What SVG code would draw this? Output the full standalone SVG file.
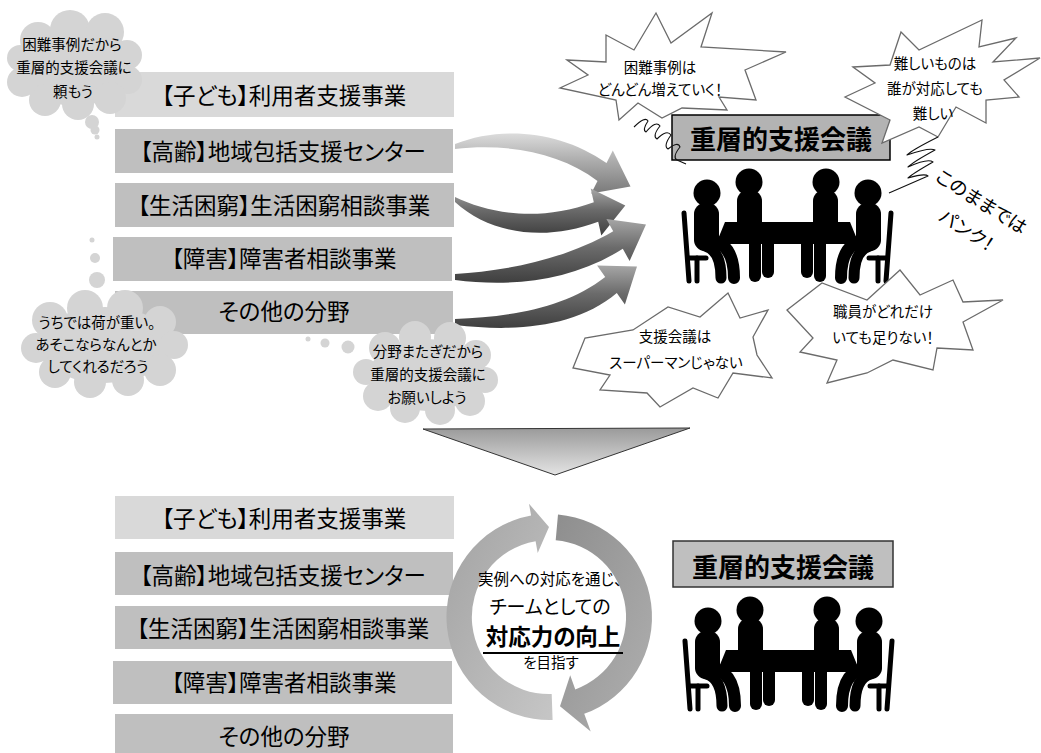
<svg xmlns="http://www.w3.org/2000/svg" width="1041" height="753" viewBox="0 0 1041 753">
  <defs>
    <style>
      text { font-family: "Noto Sans CJK JP", "Noto Sans", sans-serif; fill: #000; font-feature-settings: "palt"; }
      .lbl { font-size: 22.5px; text-anchor: middle; }
      .small { font-size: 14.5px; text-anchor: middle; }
      .box-a { fill: #d9d9d9; }
      .box-b { fill: #bfbfbf; }
      .cloud { fill: #d4d4d4; }
      .burst { fill: #fff; stroke: #6b6b6b; stroke-width: 1.3; stroke-linejoin: miter; }
      .squiggle { fill: none; stroke: #111; stroke-width: 1.1; stroke-linejoin: round; }
      .title { font-size: 26px; font-weight: 700; text-anchor: middle; }
      .limb { fill: none; stroke: #000; stroke-linecap: round; }
    </style>
    <linearGradient id="g-arrow-light" x1="0" y1="0" x2="0" y2="1">
      <stop offset="0" stop-color="#dcdcdc"/>
      <stop offset="0.5" stop-color="#a8a8a8"/>
      <stop offset="1" stop-color="#7a7a7a"/>
    </linearGradient>
    <linearGradient id="g-arrow-dark" x1="0" y1="0" x2="0" y2="1">
      <stop offset="0" stop-color="#a6a6a6"/>
      <stop offset="0.45" stop-color="#6b6b6b"/>
      <stop offset="1" stop-color="#3f3f3f"/>
    </linearGradient>
    <linearGradient id="g-down" x1="0" y1="0" x2="0" y2="1">
      <stop offset="0" stop-color="#9a9a9a"/>
      <stop offset="1" stop-color="#e4e4e4"/>
    </linearGradient>
    <linearGradient id="g-ring-left" x1="0" y1="0" x2="1" y2="1">
      <stop offset="0" stop-color="#a2a2a2"/>
      <stop offset="1" stop-color="#c6c6c6"/>
    </linearGradient>
    <linearGradient id="g-ring-right" x1="0" y1="0" x2="1" y2="1">
      <stop offset="0" stop-color="#8e8e8e"/>
      <stop offset="1" stop-color="#b0b0b0"/>
    </linearGradient>

    <!-- one side of the meeting pictogram; mirrored for the other side -->
    <g id="icon-half">
      <circle cx="707" cy="193" r="13.5"/>
      <rect x="694" y="203" width="25" height="48" rx="11"/>
      <path class="limb" d="M708,240 Q734,242 734,278" stroke-width="12"/>
      <path class="limb" d="M705,246 Q721,250 721,278" stroke-width="11"/>
      <path class="limb" d="M684,213 L689,281" stroke-width="5"/>
      <path class="limb" d="M697,258 L697,281" stroke-width="5"/>
      <path class="limb" d="M689,258 L706,258" stroke-width="5"/>
      <circle cx="749" cy="182" r="13.5"/>
      <rect x="737" y="190" width="25" height="45" rx="11"/>
      <rect x="749" y="236" width="12" height="46" rx="6"/>
      <rect x="762" y="236" width="12" height="42" rx="6"/>
    </g>
    <g id="meeting-icon" fill="#000">
      <use href="#icon-half"/>
      <use href="#icon-half" transform="matrix(-1 0 0 1 1575 0)"/>
      <polygon points="725,222 850,222 859,244 716,244"/>
    </g>
  </defs>

  <rect width="1041" height="753" fill="#fff"/>

  <!-- upper list of service areas -->
  <g id="top-kodomo"><rect class="box-a" x="115" y="72" width="339" height="45"/><text class="lbl" x="284" y="104">【子ども】利用者支援事業</text></g>
  <g id="top-korei"><rect class="box-b" x="115" y="129" width="338" height="44"/><text class="lbl" x="283" y="160">【高齢】地域包括支援センター</text></g>
  <g id="top-seikatsu"><rect class="box-b" x="115" y="183" width="339" height="44"/><text class="lbl" x="284" y="214">【生活困窮】生活困窮相談事業</text></g>
  <g id="top-shogai"><rect class="box-b" x="113" y="237" width="339" height="44"/><text class="lbl" x="284" y="267">【障害】障害者相談事業</text></g>
  <g id="top-sonota"><rect class="box-b" x="115" y="291" width="338" height="43"/><text class="lbl" x="284" y="320">その他の分野</text></g>

  <!-- curved arrows into the meeting -->
  <g id="connectors">
    <path fill="url(#g-arrow-light)" d="M455,144 C500,126 560,130 606.5,163.1 L612.8,150.6 L630.5,186.4 L591.2,193.4 L597.5,180.9 C560,152 505,143 455,149 Z"/>
    <path fill="url(#g-arrow-dark)" d="M455,197 C490,214 540,222 593.8,202.3 L590.7,188.6 L625.3,205.4 L601.3,235.4 L598.2,221.8 C545,242 490,234 455,202 Z"/>
    <path fill="url(#g-arrow-dark)" d="M455,274 C500,271 560,262 613.2,231.2 L606.4,219 L646,224.6 L629.6,261 L622.8,248.8 C570,282 510,287 455,280 Z"/>
    <path fill="url(#g-arrow-dark)" d="M455,319 C510,317 565,308 605.2,276.9 L597.1,265.5 L637,266.4 L624.9,304.5 L616.8,293.1 C575,328 515,332 455,325 Z"/>
  </g>

  <!-- thought clouds -->
  <g id="cloud-tanomou" class="cloud">
    <ellipse cx="75" cy="68" rx="55" ry="38"/>
    <circle cx="38" cy="40" r="18"/><circle cx="70" cy="30" r="20"/><circle cx="105" cy="32" r="19"/>
    <circle cx="127" cy="55" r="15"/><circle cx="128" cy="80" r="14"/><circle cx="110" cy="98" r="16"/>
    <circle cx="78" cy="104" r="16"/><circle cx="45" cy="100" r="16"/><circle cx="22" cy="82" r="15"/>
    <circle cx="20" cy="58" r="13"/>
    <circle cx="92" cy="122" r="7"/><circle cx="95" cy="130" r="4.5"/><circle cx="97" cy="137" r="2.5"/>
    <text class="small" x="72" y="50">困難事例だから</text>
    <text class="small" x="74" y="73">重層的支援会議に</text>
    <text class="small" x="73" y="97">頼もう</text>
  </g>
  <g id="cloud-omoi" class="cloud">
    <circle cx="92" cy="240" r="2.5"/><circle cx="95" cy="258" r="5"/><circle cx="97" cy="280" r="8"/>
    <ellipse cx="105" cy="345" rx="68" ry="38"/>
    <circle cx="50" cy="320" r="18"/><circle cx="85" cy="308" r="18"/><circle cx="125" cy="308" r="18"/>
    <circle cx="160" cy="322" r="16"/><circle cx="174" cy="345" r="14"/><circle cx="160" cy="370" r="16"/>
    <circle cx="128" cy="380" r="16"/><circle cx="90" cy="382" r="16"/><circle cx="55" cy="372" r="16"/>
    <circle cx="36" cy="348" r="15"/>
    <text class="small" x="97" y="328">うちでは荷が重い。</text>
    <text class="small" x="96" y="350">あそこならなんとか</text>
    <text class="small" x="98" y="372">してくれるだろう</text>
  </g>
  <g id="cloud-onegai" class="cloud">
    <circle cx="308" cy="339" r="2.5"/><circle cx="325" cy="343" r="4.5"/><circle cx="348" cy="347" r="6.5"/>
    <ellipse cx="427" cy="375" rx="58" ry="36"/>
    <circle cx="385" cy="348" r="16"/><circle cx="415" cy="337" r="16"/><circle cx="450" cy="338" r="16"/>
    <circle cx="476" cy="355" r="15"/><circle cx="485" cy="380" r="13"/><circle cx="470" cy="401" r="15"/>
    <circle cx="440" cy="410" r="15"/><circle cx="405" cy="408" r="15"/><circle cx="378" cy="396" r="15"/>
    <circle cx="366" cy="372" r="13"/>
    <text class="small" x="428" y="357">分野またぎだから</text>
    <text class="small" x="428" y="380">重層的支援会議に</text>
    <text class="small" x="427" y="403">お願いしよう</text>
  </g>

  <!-- the council, overloaded -->
  <g id="council-top">
    <rect x="672" y="115" width="218" height="45" fill="#b3b3b3" stroke="#000" stroke-width="1.5"/>
    <text class="title" x="781" y="149">重層的支援会議</text>
    <use href="#meeting-icon"/>
  </g>

  <g id="burst-zoka">
    <polygon class="burst" points="567,60 606,62 606,35 634,50 656,13 671,43 712,13 701,47 786,52 745,70 756,100 719,97 727,110 682,108 662,118 638,103 619,120 616,100 560,88 588,75"/>
    <text class="small" x="660" y="73">困難事例は</text>
    <text class="small" x="660" y="95">どんどん増えていく！</text>
  </g>
  <g id="burst-muzukashii">
    <polygon class="burst" points="853,67 890,65 901,32 919,50 982,20 979,47 1016,38 993,62 1040,58 1004,80 1019,97 986,100 986,123 956,107 938,137 919,127 882,143 890,120 845,97 875,83"/>
    <text class="small" x="935" y="69">難しいものは</text>
    <text class="small" x="935" y="94">誰が対応しても</text>
    <text class="small" x="933" y="119">難しい</text>
  </g>
  <g id="burst-superman">
    <polygon class="burst" points="573,368 585,338 633,330 668,307 700,317 728,293 740,318 768,310 753,337 757,355 772,378 733,373 718,398 693,388 660,407 647,393 600,390 610,375"/>
    <text class="small" x="675" y="342">支援会議は</text>
    <text class="small" x="676" y="368">スーパーマンじゃない</text>
  </g>
  <g id="burst-tarinai">
    <polygon class="burst" points="787,310 822,283 867,300 900,270 920,295 953,280 963,302 1003,300 963,322 973,350 937,348 933,370 893,360 867,373 827,383 837,360 800,352 813,338"/>
    <text class="small" x="883" y="317">職員がどれだけ</text>
    <text class="small" x="883" y="343">いても足りない！</text>
  </g>

  <path class="squiggle" d="M634,127 Q645,116 648,121 Q642,130 646,132 Q656,120 660,126 Q652,136 657,139 Q667,129 671,135 Q663,146 668,149 Q678,141 680,147 Q672,157 677,160 L686,164"/>
  <path class="squiggle" d="M938,137 Q912,150 907,155 Q930,147 935,150 Q913,162 908,167 Q928,158 933,162 Q912,174 908,178 Q925,173 928,176 L889,193"/>

  <g id="panku" transform="translate(934,180) rotate(32)">
    <text x="0" y="0" font-size="18.5">このままでは</text>
    <text x="24" y="32" font-size="18.5">パンク！</text>
  </g>

  <!-- transition arrow -->
  <polygon id="down-arrow" points="423,429 690,428 555,475" fill="url(#g-down)" stroke="#333" stroke-width="1"/>

  <!-- lower list of service areas -->
  <g id="bottom-kodomo"><rect class="box-a" x="115" y="496" width="339" height="43"/><text class="lbl" x="284" y="527">【子ども】利用者支援事業</text></g>
  <g id="bottom-korei"><rect class="box-b" x="115" y="552" width="338" height="43"/><text class="lbl" x="283" y="584">【高齢】地域包括支援センター</text></g>
  <g id="bottom-seikatsu"><rect class="box-b" x="115" y="606" width="338" height="43"/><text class="lbl" x="283" y="637">【生活困窮】生活困窮相談事業</text></g>
  <g id="bottom-shogai"><rect class="box-b" x="113" y="661" width="339" height="43"/><text class="lbl" x="284" y="691">【障害】障害者相談事業</text></g>
  <g id="bottom-sonota"><rect class="box-b" x="115" y="714" width="338" height="45"/><text class="lbl" x="284" y="745">その他の分野</text></g>

  <!-- improvement cycle -->
  <g id="cycle">
    <path fill="url(#g-ring-left)" d="M551.7,694 L552.6,719.9 A103,103 0 0 1 531.1,515.6 L529,503.7 L549,527 L537.7,553 L535.6,541.2 A77,77 0 0 0 551.7,694 Z"/>
    <path fill="url(#g-ring-right)" d="M555.7,540.3 L558,514.4 A103,103 0 0 1 584.2,713.8 L590.7,731.6 L560,706.3 L570.2,675.3 L575.3,689.4 A77,77 0 0 0 555.7,540.3 Z"/>
    <text x="550" y="585" font-size="15.5" text-anchor="middle">実例への対応を通じ、</text>
    <text x="550" y="614" font-size="19" text-anchor="middle">チームとしての</text>
    <text x="553" y="645" font-size="22.5" font-weight="700" text-anchor="middle">対応力の向上</text>
    <line x1="483" y1="653" x2="623" y2="653" stroke="#000" stroke-width="2"/>
    <text x="551" y="668" font-size="14.5" text-anchor="middle">を目指す</text>
  </g>

  <!-- the council, after -->
  <g id="council-bottom">
    <rect x="673" y="541" width="220" height="46" fill="#bfbfbf" stroke="#333" stroke-width="1.5"/>
    <text class="title" x="783" y="577">重層的支援会議</text>
    <use href="#meeting-icon" transform="translate(1,428)"/>
  </g>
</svg>
